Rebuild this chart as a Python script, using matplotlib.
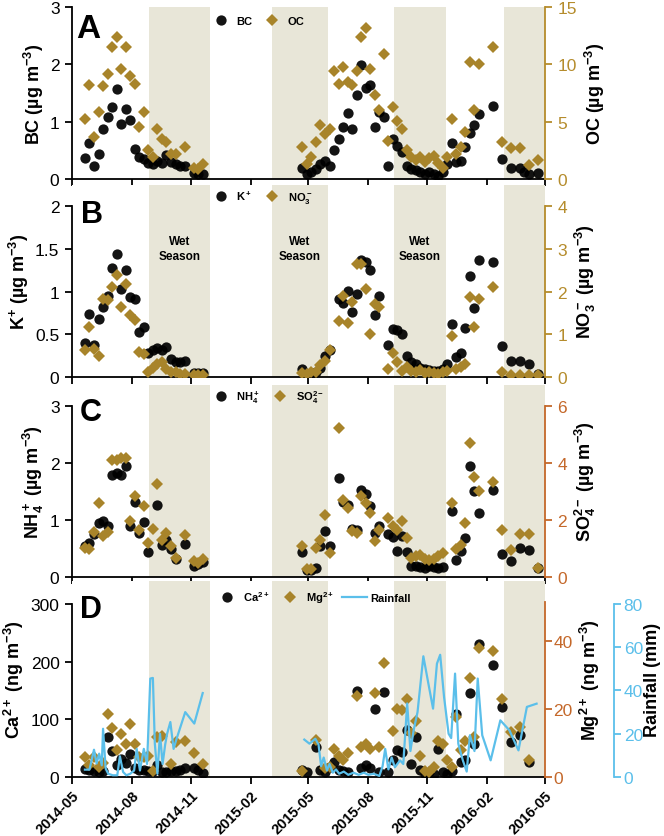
import numpy as np
import pandas as pd
import matplotlib
matplotlib.use("Agg")
import matplotlib.pyplot as plt
import matplotlib.dates as mdates
from matplotlib.lines import Line2D
from matplotlib.ticker import FuncFormatter

nan = np.nan

# weekly filter samples (two campaigns)
SAMPLE_DATES = [
    "2014-05-21", "2014-05-28", "2014-06-04", "2014-06-11", "2014-06-18", "2014-06-25",
    "2014-07-02", "2014-07-09", "2014-07-16", "2014-07-23", "2014-07-30", "2014-08-06",
    "2014-08-13", "2014-08-20", "2014-08-27", "2014-09-03", "2014-09-10", "2014-09-17",
    "2014-09-24", "2014-10-01", "2014-10-08", "2014-10-15", "2014-10-22", "2014-10-29",
    "2014-11-05", "2014-11-12", "2014-11-19",
    "2015-04-22", "2015-04-29", "2015-05-06", "2015-05-13", "2015-05-20", "2015-05-27",
    "2015-06-03", "2015-06-10", "2015-06-17", "2015-06-24", "2015-07-01", "2015-07-08",
    "2015-07-15", "2015-07-22", "2015-07-29", "2015-08-05", "2015-08-12", "2015-08-19",
    "2015-08-26", "2015-09-02", "2015-09-09", "2015-09-16", "2015-09-23", "2015-09-30",
    "2015-10-07", "2015-10-14", "2015-10-21", "2015-10-28", "2015-11-04", "2015-11-11",
    "2015-11-18", "2015-11-25", "2015-12-02", "2015-12-09", "2015-12-16", "2015-12-23",
    "2015-12-30", "2016-01-06", "2016-01-13", "2016-01-20", "2016-01-27", "2016-02-03",
    "2016-02-10", "2016-02-17", "2016-02-24", "2016-03-02", "2016-03-09", "2016-03-16",
    "2016-03-23", "2016-03-30", "2016-04-06", "2016-04-13", "2016-04-20",
]

BC = [0.37, 0.62, 0.23, 0.44, 0.88, 1.08, 1.25, 1.57, 0.96, 1.22,
      1.03, 0.53, 0.38, 0.35, 0.28, 0.27, 0.32, 0.28, 0.41, 0.29,
      0.26, 0.22, 0.22, nan, 0.10, 0.08, 0.09,
      0.19, 0.09, 0.12, 0.17, 0.27, 0.32, 0.22, 0.51, 0.70, 0.91,
      1.15, 0.87, 1.47, 1.99, 1.59, 1.64, 0.91, 1.16, 1.09, 0.23,
      0.70, 0.58, 0.47, 0.22, 0.17, 0.15, 0.12, 0.09, 0.12, 0.08,
      0.06, 0.12, 0.26, 0.62, 0.29, 0.31, 0.55, 0.81, 0.95, 1.13,
      nan, nan, 1.28, nan, 0.35, nan, 0.20, nan, 0.19, 0.12,
      0.09, nan, 0.10]
OC = [5.2, 8.2, 3.7, 5.8, 8.1, 9.2, 11.5, 12.4, 9.6, 11.5,
      9.0, 8.3, 4.5, 5.8, 2.5, 1.9, 4.4, 3.5, 3.2, 2.2,
      2.2, nan, 2.8, nan, 1.0, 0.9, 1.3,
      2.8, 1.3, 1.9, 3.2, 4.7, 3.9, 4.4, 9.4, 8.3, 9.8,
      8.5, 8.2, 9.4, 12.4, 13.2, 9.6, 7.3, 6.0, 10.9, 3.3,
      6.3, 5.1, 4.4, 2.5, 1.9, 1.7, 1.9, 1.5, 1.8, 2.0,
      1.4, 1.0, 1.9, 5.2, 2.2, 2.8, 4.1, 10.2, 6.0, 10.0,
      nan, nan, 11.5, nan, 3.2, nan, 2.7, nan, 2.7, nan,
      1.2, nan, 1.7]
K = [0.40, 0.74, 0.37, 0.68, 0.82, 0.95, 1.27, 1.44, 1.03, 1.25,
     0.93, 0.91, 0.53, 0.59, 0.28, 0.32, 0.34, 0.32, 0.35, 0.21,
     0.17, 0.17, 0.19, nan, 0.05, 0.05, 0.05,
     0.09, 0.04, 0.05, 0.06, 0.11, 0.25, 0.31, nan, 0.91, 0.87,
     1.01, 0.76, 0.97, 1.37, 1.34, 1.25, 0.72, 0.95, nan, 0.37,
     0.56, 0.55, 0.50, 0.25, 0.17, 0.15, 0.11, 0.09, 0.08, 0.07,
     0.07, 0.09, 0.15, 0.62, 0.23, 0.28, 0.57, 1.18, 0.81, 1.37,
     nan, nan, 1.34, nan, 0.36, nan, 0.19, nan, 0.19, nan,
     0.15, nan, 0.04]
NO3 = [0.62, 1.16, 0.66, 0.50, 1.83, 1.79, 2.10, 2.39, 1.63, 2.18,
       1.44, 1.34, 0.58, 0.54, 0.11, 0.20, 0.30, 0.34, 0.19, 0.11,
       0.11, 0.08, 0.07, nan, 0.04, 0.05, 0.04,
       0.09, 0.07, 0.11, 0.11, 0.27, 0.38, 0.62, nan, 1.32, 1.90,
       1.27, 1.75, 2.65, 2.65, 2.05, 1.00, 1.71, 1.63, nan, 0.19,
       0.56, 0.34, 0.15, 0.23, 0.15, 0.12, 0.16, 0.10, 0.12, 0.10,
       0.08, 0.12, 0.15, 0.95, 0.19, 0.23, 0.30, 1.87, 1.16, 1.83,
       nan, nan, 2.10, nan, 0.11, nan, 0.05, nan, 0.05, nan,
       0.05, nan, 0.04]
NH4 = [0.55, 0.60, 0.75, 0.95, 0.98, 0.89, 1.79, 1.82, 1.79, 1.95,
       0.90, 1.31, 0.77, 0.96, 0.44, nan, 1.27, 0.57, 0.65, 0.49,
       0.31, nan, 0.58, nan, 0.20, 0.22, 0.26,
       0.44, 0.12, 0.13, 0.15, 0.55, 0.80, 0.55, nan, 1.73, 1.31,
       1.27, 0.84, 0.82, 1.53, 1.46, 1.24, 0.77, 0.89, nan, 0.75,
       0.70, 0.46, 0.72, 0.44, 0.19, 0.20, 0.17, 0.15, 0.20, 0.18,
       0.15, 0.18, nan, 1.15, 0.30, 0.45, 0.69, 1.95, 1.50, 1.13,
       nan, nan, 1.52, nan, 0.40, nan, 0.28, nan, 0.50, nan,
       0.47, nan, 0.15]
SO4 = [1.02, 0.99, 1.57, 2.59, 1.45, 1.57, 4.10, 4.10, 4.16, 4.16,
       1.95, 2.85, 1.66, 2.48, 1.20, 1.69, 3.26, 1.31, 1.55, 1.08,
       0.67, nan, 1.49, nan, 0.56, 0.50, 0.62,
       1.10, 0.27, 0.27, 1.02, 1.31, 2.19, 0.85, nan, 5.21, 2.71,
       2.42, 1.60, 1.55, 2.83, 2.59, 2.24, 1.26, 1.66, nan, 2.07,
       1.78, 1.66, 1.95, 1.37, 0.67, 0.73, 0.76, 0.62, 0.58, 0.62,
       0.73, 0.85, nan, 2.59, 0.97, 1.14, 1.90, 4.71, 3.52, 3.00,
       nan, nan, 3.35, nan, 1.66, nan, 0.94, nan, 1.51, nan,
       1.51, nan, 0.33]
CA = [14, 12, 10, 8, 10, 70, 45, 20, 32, 25,
      40, 15, 12, 12, 10, 10, 20, 8, 8, 10,
      10, 12, 15, nan, 15, 12, 7,
      12, 8, nan, 52, 12, 8, 17, 26, 12, 10,
      8, nan, 149, 15, 20, 15, 118, 8, 147, 8,
      29, 46, 43, 81, 23, 69, 12, 5, 8, 5,
      49, 8, 5, 10, 110, 26, 29, 145, 58, 231,
      nan, nan, 194, nan, 121, nan, 61, nan, 72, nan,
      26, nan, nan]
MG = [6.0, 3.5, 6.0, 3.0, 4.0, 18.6, 14.4, 8.0, 12.6, 9.7,
      15.7, 9.7, 5.8, 5.8, 6.2, 1.9, 11.8, 12.1, nan, 3.9,
      10.2, nan, 10.7, nan, 7.0, nan, 3.9,
      1.9, nan, nan, 10.9, nan, 2.5, 3.0, 8.3, 6.3, 4.9,
      7.0, nan, 23.8, 8.7, 9.7, 8.3, 24.8, 8.7, 33.5, nan,
      13.6, 19.9, 19.6, 22.8, 13.0, 16.5, 6.3, 1.9, 1.5, 3.0,
      10.7, 9.7, 4.9, 3.0, 17.5, 7.8, 10.7, 29.1, 11.7, 38.0,
      nan, nan, 36.9, nan, 22.8, nan, 13.1, nan, 14.6, nan,
      5.0, nan, nan]

RAIN_DATES = [
    "2014-05-21", "2014-05-28", "2014-06-04", "2014-06-08", "2014-06-12", "2014-06-16",
    "2014-06-18", "2014-06-22", "2014-06-26", "2014-07-03", "2014-07-10", "2014-07-14",
    "2014-07-19", "2014-07-24", "2014-07-30", "2014-08-05", "2014-08-09", "2014-08-14",
    "2014-08-20", "2014-08-25", "2014-08-30", "2014-09-03", "2014-09-06", "2014-09-10",
    "2014-09-14", "2014-09-18", "2014-09-22", "2014-09-25", "2014-09-30", "2014-10-05",
    "2014-10-10", "2014-10-23", "2014-11-06", "2014-11-19",
    "2015-04-25", "2015-05-03", "2015-05-12", "2015-05-17", "2015-05-21", "2015-05-25",
    "2015-05-30", "2015-06-03", "2015-06-08", "2015-06-13", "2015-06-18", "2015-06-25",
    "2015-07-02", "2015-07-10", "2015-07-18", "2015-07-26", "2015-08-02", "2015-08-10",
    "2015-08-19", "2015-08-24", "2015-08-28", "2015-09-02", "2015-09-07", "2015-09-12",
    "2015-09-20", "2015-09-25", "2015-10-01", "2015-10-06", "2015-10-11", "2015-10-17",
    "2015-10-26", "2015-11-03", "2015-11-10", "2015-11-16", "2015-11-21", "2015-11-27",
    "2015-12-04", "2015-12-08", "2015-12-14", "2015-12-19", "2015-12-26", "2016-01-01",
    "2016-01-06", "2016-01-13", "2016-01-18", "2016-01-25", "2016-02-07", "2016-02-22",
    "2016-03-07", "2016-03-21", "2016-04-03", "2016-04-18",
]
RAIN_MM = [
    3.4, 3.4, 12.6, 6.2, 10.8, 5.4, 22.3, 3.9, 1.5, 0.8, 0.8, 9.6,
    2.3, 0.8, 1.5, 3.0, 13.0, 3.0, 13.0, 6.0, 45.5, 45.8, 15.4, 1.5,
    20.0, 6.0, 15.0, 20.0, 25.4, 13.0, 18.0, 30.0, 24.7, 38.8,
    17.3, 15.4, 17.7, 15.0, 5.0, 9.0, 3.0, 6.0, 2.0, 3.5, 1.5, 2.5,
    1.0, 2.0, 1.0, 2.0, 1.0, 1.5, 0.5, 5.0, 13.0, 3.5, 9.0, 4.5,
    7.7, 6.0, 34.0, 12.0, 21.6, 30.0, 55.8, 42.8, 31.6, 52.4, 56.5, 37.0,
    20.0, 18.0, 47.8, 15.4, 7.7, 2.5, 19.3, 12.0, 45.5, 19.3, 7.7, 26.2,
    21.6, 12.3, 32.4, 33.9,
]

WET_SEASONS = [("2014-08-28", "2014-11-30"), ("2015-03-06", "2015-06-01"),
               ("2015-09-10", "2015-11-30"), ("2016-02-27", "2016-05-01")]

GOLD = "#a8842a"
GOLD_AX = "#b58c2c"
ORANGE = "#c4682a"
BLUE = "#5bbfea"
SHADE = "#e8e6d8"

plt.rcParams.update({
    "font.family": ["Liberation Sans", "DejaVu Sans"],
    "font.size": 12.5,
    "mathtext.fontset": "custom",
    "mathtext.rm": "Liberation Sans:bold",
    "mathtext.it": "Liberation Sans:bold:italic",
    "mathtext.bf": "Liberation Sans:bold",
    "mathtext.default": "rm",
    "axes.linewidth": 1.3,
    "xtick.major.width": 1.3, "ytick.major.width": 1.3,
    "xtick.major.size": 5, "ytick.major.size": 5,
    "xtick.direction": "out", "ytick.direction": "out",
    "ytick.major.pad": 4,
})

W, H = 664, 837
X0, X1 = pd.Timestamp("2014-05-01"), pd.Timestamp("2016-05-01")
dates = pd.to_datetime(SAMPLE_DATES)
fmt = FuncFormatter(lambda v, p: f"{v:g}")


def main_axis(top, bot, ymax, spine_top, yticks, ylabel):
    ax = fig.add_axes([72 / W, 1 - bot / H, 473 / W, (bot - top) / H])
    ax.set_xlim(X0, X1)
    ax.set_ylim(0, ymax)
    for s in ("top", "right"):
        ax.spines[s].set_visible(False)
    ax.spines["left"].set_bounds(0, spine_top)
    ax.set_yticks(yticks)
    ax.yaxis.set_major_formatter(fmt)
    ax.set_ylabel(ylabel, fontweight="bold", fontsize=13, labelpad=3)
    for a, b in WET_SEASONS:
        ax.axvspan(pd.Timestamp(a), pd.Timestamp(b), color=SHADE, lw=0, zorder=0)
    ax.xaxis.set_major_locator(mdates.MonthLocator(bymonth=[2, 5, 8, 11]))
    ax.xaxis.set_major_formatter(mdates.DateFormatter("%Y-%m"))
    ax.tick_params(axis="x", labelbottom=False)
    return ax


def right_axis(ax, ymax, spine_top, yticks, ylabel, color, offset=None, lpad=4):
    tw = ax.twinx()
    tw.set_ylim(0, ymax)
    for s in ("top", "left", "bottom"):
        tw.spines[s].set_visible(False)
    tw.spines["right"].set_color(color)
    tw.spines["right"].set_bounds(0, spine_top)
    if offset is not None:
        tw.spines["right"].set_position(("axes", offset))
    tw.set_yticks(yticks)
    tw.yaxis.set_major_formatter(fmt)
    tw.tick_params(axis="y", colors=color)
    tw.set_ylabel(ylabel, fontweight="bold", fontsize=13, color="black", labelpad=lpad)
    return tw


def legend(handles, labels, ypx, ncol, hl=1.2, htp=0.8, cs=1.2):
    fig.legend(handles, labels, loc="center left", bbox_to_anchor=(214 / W, 1 - ypx / H),
               ncol=ncol, frameon=False, borderpad=0, borderaxespad=0,
               handlelength=hl, handletextpad=htp, columnspacing=cs,
               prop={"weight": "bold", "size": 8})


circle = dict(marker="o", ls="none", ms=7.4, color="black", alpha=0.92, mew=0)
diamond = dict(marker="D", ls="none", ms=6.0, color=GOLD, mew=0)
h_circle = Line2D([], [], **circle)
h_diamond = Line2D([], [], **diamond)

fig = plt.figure(figsize=(W / 100, H / 100), dpi=100)

# A: BC / OC
axA = main_axis(8, 180, 3, 3, [0, 1, 2, 3], "BC (µg m$^{-3}$)")
axA.plot(dates, BC, **circle)
twA = right_axis(axA, 15, 15, [0, 5, 10, 15], "OC (µg m$^{-3}$)", GOLD_AX)
twA.plot(dates, OC, **diamond)
legend([h_circle, h_diamond], ["BC", "OC"], 22, 2)

# B: K+ / NO3-
axB = main_axis(186, 378, 2.246, 2, [0, 0.5, 1, 1.5, 2], "K$^{+}$ (µg m$^{-3}$)")
axB.plot(dates, K, **circle)
twB = right_axis(axB, 4.492, 4, [0, 1, 2, 3, 4], "NO$_3^-$ (µg m$^{-3}$)", GOLD_AX)
twB.plot(dates, NO3, **diamond)
legend([h_circle, h_diamond], ["K$^+$", "NO$_3^-$"], 198, 2)
for a, b in WET_SEASONS[:3]:
    mid = pd.Timestamp(a) + (pd.Timestamp(b) - pd.Timestamp(a)) / 2
    axB.text(mid, 1.5, "Wet\nSeason", ha="center", va="center", fontsize=8.5,
             fontweight="bold", linespacing=1.3)

# C: NH4+ / SO4 2-
axC = main_axis(386, 578, 3.368, 3, [0, 1, 2, 3], "NH$_4^+$ (µg m$^{-3}$)")
axC.plot(dates, NH4, **circle)
twC = right_axis(axC, 6.736, 6, [0, 2, 4, 6], "SO$_4^{2-}$ (µg m$^{-3}$)", ORANGE)
twC.plot(dates, SO4, **diamond)
legend([h_circle, h_diamond], ["NH$_4^+$", "SO$_4^{2-}$"], 398, 2)

# D: Ca2+ / Mg2+ / rainfall
axD = main_axis(582, 778, 339.9, 300, [0, 100, 200, 300], "Ca$^{2+}$ (ng m$^{-3}$)")
axD.plot(dates, CA, **circle)
twD = right_axis(axD, 57.6, 51.5, [0, 20, 40], "Mg$^{2+}$ (ng m$^{-3}$)", ORANGE)
twD.tick_params(axis="y", pad=1)
twD.plot(dates, MG, **diamond)
rnD = right_axis(axD, 90.6, 80, [0, 20, 40, 60, 80], "Rainfall (mm)", BLUE,
                 offset=(614 - 72) / 473, lpad=1)
rnD.tick_params(axis="y", pad=2)
rain = pd.Series(RAIN_MM, index=pd.to_datetime(RAIN_DATES))
brk = (rain.index.to_series().diff() > pd.Timedelta(days=60)).cumsum()
for _, seg in rain.groupby(brk.values):
    rnD.plot(seg.index, seg.values, color=BLUE, lw=1.6)
h_line = Line2D([], [], color=BLUE, lw=1.6)
legend([h_circle, h_diamond, h_line], ["Ca$^{2+}$", "Mg$^{2+}$", "Rainfall"], 598, 3,
       hl=2.3, htp=0.3, cs=0.7)
axD.tick_params(axis="x", labelbottom=True, pad=3)
for lab in axD.get_xticklabels():
    lab.set_rotation(45)
    lab.set_ha("right")
    lab.set_rotation_mode("anchor")
    lab.set_fontweight("bold")
    lab.set_fontsize(10.5)

for letter, xpx, base in zip("ABCD", [76, 81, 80, 80], [38, 223, 421, 618]):
    fig.text(xpx / W, 1 - base / H, letter, fontsize=24 if letter == "A" else 22,
             fontweight="bold", va="baseline")

fig.savefig("out.png", dpi=100)
